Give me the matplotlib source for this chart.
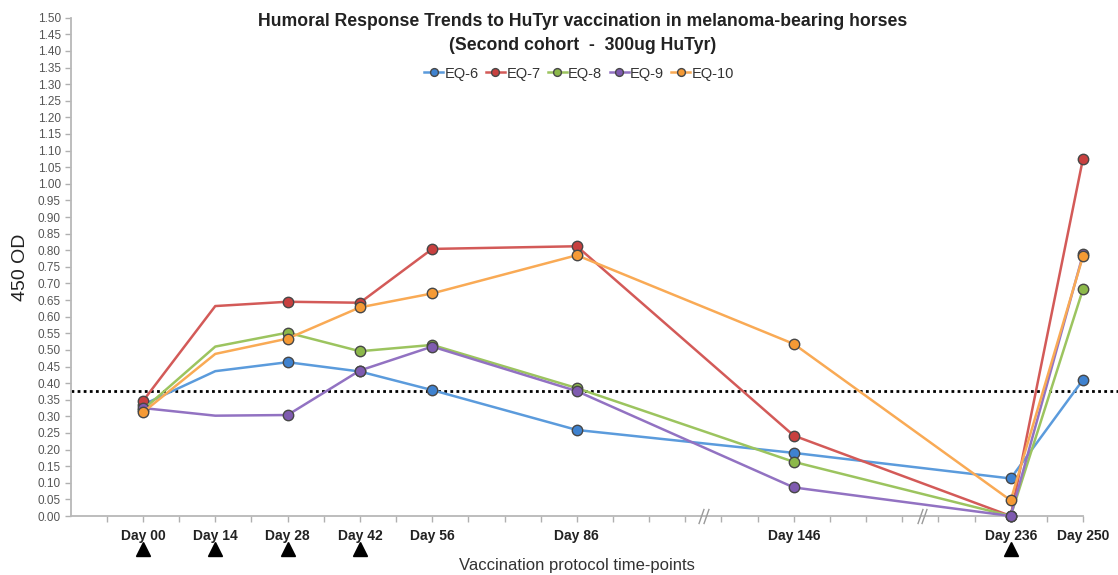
import matplotlib
matplotlib.use("Agg")
import matplotlib.pyplot as plt
import matplotlib.transforms as mtransforms

plt.rcParams['font.family'] = ['Liberation Sans', 'DejaVu Sans']

# Time-points and their slot on the category axis (gaps mark breaks in time)
days = ["Day 00", "Day 14", "Day 28", "Day 42", "Day 56", "Day 86", "Day 146", "Day 236", "Day 250"]
slots = [2, 4, 6, 8, 10, 14, 20, 26, 28]
vaccination_days = ["Day 00", "Day 14", "Day 28", "Day 42", "Day 236"]
break_slots = [17.5, 23.55]
cutoff = 0.376

horses = ["EQ-6", "EQ-7", "EQ-8", "EQ-9", "EQ-10"]
eq6 = [0.335, 0.436, 0.463, 0.435, 0.379, 0.259, 0.190, 0.113, 0.410]
eq7 = [0.346, 0.632, 0.645, 0.642, 0.804, 0.812, 0.242, 0.000, 1.076]
eq8 = [0.320, 0.510, 0.552, 0.496, 0.515, 0.385, 0.163, 0.000, 0.683]
eq9 = [0.325, 0.302, 0.304, 0.438, 0.510, 0.376, 0.086, 0.000, 0.788]
eq10 = [0.312, 0.488, 0.534, 0.628, 0.670, 0.785, 0.518, 0.047, 0.782]
series = [eq6, eq7, eq8, eq9, eq10]

line_colors = ["#5b9bdc", "#d35a58", "#9cc45f", "#9272c2", "#f9aa55"]
face_colors = ["#3f82cf", "#c8403f", "#8cb84a", "#7f5bb0", "#f59a35"]

# Day 14 samples carry no marker
marked = [i for i, d in enumerate(days) if d != "Day 14"]

fig = plt.figure(figsize=(11.18, 5.75), dpi=100)
ax = fig.add_axes([0.0632, 0.1026, 0.9055, 0.8666])

for name, vals, lc, fc in zip(horses, series, line_colors, face_colors):
    ax.plot(slots, vals, color=lc, lw=1.8, marker="o", markersize=7.5,
            markerfacecolor=fc, markeredgecolor="#474747", markeredgewidth=1.0,
            markevery=marked, label=name, zorder=3, clip_on=False)

# Positivity cut-off
ax.plot([0, 29], [cutoff, cutoff], color="black", lw=2.0,
        linestyle=(0, (1, 1.2)), clip_on=False, zorder=2)

ax.set_xlim(0, 28)
ax.set_ylim(0, 1.5)

ax.set_yticks([i * 0.05 for i in range(31)])
ax.set_yticklabels([f"{i * 0.05:.2f}" for i in range(31)])

ax.set_xticks(range(1, 29))
ax.set_xticklabels([days[slots.index(s)] if s in slots else "" for s in range(1, 29)],
                   fontweight="bold", fontsize=10, color="#222222")

ax.tick_params(axis="y", labelsize=8.5, labelcolor="#555555", color="#b0b0b0",
               length=4, width=1, pad=3)
ax.tick_params(axis="x", color="#b0b0b0", length=4, width=1, pad=5)

for side in ("top", "right"):
    ax.spines[side].set_visible(False)
for side in ("left", "bottom"):
    ax.spines[side].set_color("#b8b8b8")
    ax.spines[side].set_linewidth(1.3)

# Vaccination markers below the time-point labels
trans = mtransforms.blended_transform_factory(ax.transData, ax.transAxes)
vx = [slots[days.index(d)] for d in vaccination_days]
ax.plot(vx, [-0.066] * len(vx), linestyle="none", marker="^", markersize=9.5,
        color="black", transform=trans, clip_on=False)

# Axis break symbols
for bx in break_slots:
    ax.plot([bx - 0.06, bx + 0.06], [0, 0], linestyle="none",
            marker=[(-0.35, -1), (0.35, 1)], markersize=11, markeredgewidth=1.0,
            color="#9a9a9a", transform=trans, clip_on=False, zorder=4)

ax.set_ylabel("450 OD", fontsize=14, color="#222222", labelpad=6)
ax.set_xlabel("Vaccination protocol time-points", fontsize=12, color="#333333", labelpad=11.5)

fig.text(0.521, 0.977, "Humoral Response Trends to HuTyr vaccination in melanoma-bearing horses\n"
         "(Second cohort  -  300ug HuTyr)", ha="center", va="top",
         fontsize=12.7, fontweight="bold", color="#222222", linespacing=1.5)

ax.legend(loc="center", bbox_to_anchor=(0.518, 0.872), bbox_transform=fig.transFigure,
          ncol=5, frameon=False, fontsize=10.5, handlelength=1.3, handletextpad=0.1,
          columnspacing=0.5, markerscale=0.75, labelcolor="#333333")

fig.savefig("out.png", dpi=100)
